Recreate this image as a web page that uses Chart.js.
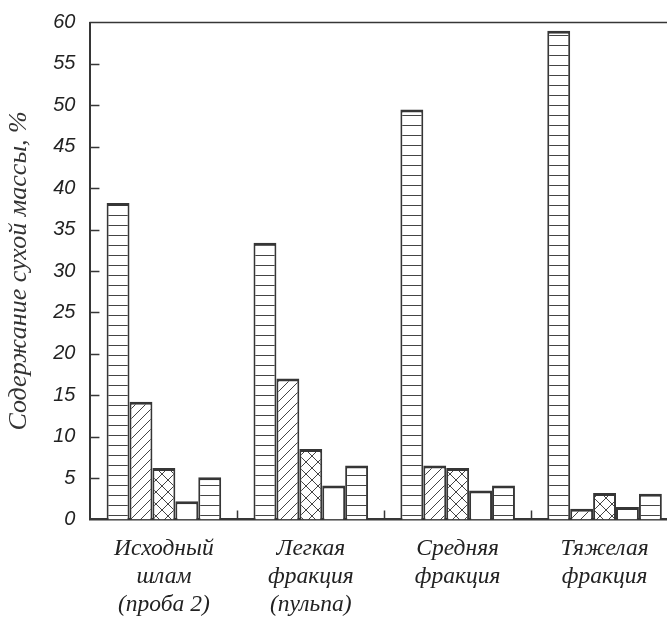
<!DOCTYPE html>
<html>
<head>
<meta charset="utf-8">
<script src="https://cdn.jsdelivr.net/npm/chart.js@4"></script>
<style>
  html, body { margin: 0; background: #fff; overflow: hidden; }
  #wrap { width: 692px; height: 619px; }
</style>
</head>
<body>
<div id="wrap"><canvas id="chart"></canvas></div>
<script>
// categories and values
const categories = [
    ['Исходный', 'шлам', '(проба 2)'],
    ['Легкая', 'фракция', '(пульпа)'],
    ['Средняя', 'фракция'],
    ['Тяжелая', 'фракция']
];
const series1 = [38.2, 33.4, 49.5, 59.0];
const series2 = [14.2, 17.0, 6.5, 1.3];
const series3 = [6.2, 8.5, 6.2, 3.2];
const series4 = [2.2, 4.1, 3.5, 1.5];
const series5 = [5.1, 6.5, 4.1, 3.1];
const yTicks = [0, 5, 10, 15, 20, 25, 30, 35, 40, 45, 50, 55, 60];

const ink = '#363636';

function makePattern(kind) {
    const s = kind === 'cross' ? 12 : 10;
    const c = document.createElement('canvas');
    c.width = s; c.height = s;
    const g = c.getContext('2d');
    g.fillStyle = '#fff';
    g.fillRect(0, 0, s, s);
    g.strokeStyle = '#444';
    g.lineWidth = 1;
    g.beginPath();
    if (kind === 'horiz') {
        g.moveTo(0, 5.5); g.lineTo(s, 5.5);
    }
    if (kind === 'diag' || kind === 'cross') {
        g.moveTo(-1, s + 1); g.lineTo(s + 1, -1);
        g.moveTo(-1, 1); g.lineTo(1, -1);
        g.moveTo(s - 1, s + 1); g.lineTo(s + 1, s - 1);
    }
    if (kind === 'cross') {
        g.moveTo(-1, -1); g.lineTo(s + 1, s + 1);
        g.moveTo(s - 1, -1); g.lineTo(s + 1, 1);
        g.moveTo(-1, s - 1); g.lineTo(1, s + 1);
    }
    g.stroke();
    return g.createPattern(c, 'repeat');
}

// inward ticks on both axes and the top frame line
const frame = {
    id: 'frame',
    afterDraw(chart) {
        const { ctx, chartArea: a, scales: { x, y } } = chart;
        ctx.save();
        ctx.strokeStyle = ink;
        ctx.lineWidth = 1.5;
        ctx.beginPath();
        ctx.moveTo(a.left - 1, a.top);
        ctx.lineTo(a.right + 5, a.top);
        yTicks.forEach(v => {
            if (v === 0 || v === 60) return;
            const py = Math.round(y.getPixelForValue(v)) + 0.5;
            ctx.moveTo(a.left, py);
            ctx.lineTo(a.left + 9, py);
        });
        for (let i = 1; i < categories.length; i++) {
            const px = Math.round((x.getPixelForValue(i - 1) + x.getPixelForValue(i)) / 2) + 0.5;
            ctx.moveTo(px, a.bottom);
            ctx.lineTo(px, a.bottom - 9);
        }
        ctx.stroke();
        ctx.restore();
    }
};

const fills = [makePattern('horiz'), makePattern('diag'), makePattern('cross'), '#fff', makePattern('horiz')];
const allSeries = [series1, series2, series3, series4, series5];

new Chart(document.getElementById('chart'), {
    type: 'bar',
    data: {
        labels: categories,
        datasets: allSeries.map((d, i) => ({
            label: 'Серия ' + (i + 1),
            data: d,
            backgroundColor: fills[i],
            borderColor: ink,
            borderWidth: { top: 3, left: 2, right: 2, bottom: 0 },
            borderSkipped: 'bottom',
            categoryPercentage: 0.78,
            barPercentage: 1.0
        }))
    },
    options: {
        responsive: true,
        maintainAspectRatio: false,
        animation: false,
        layout: { padding: { top: 4, right: 14, left: 2, bottom: -15 } },
        plugins: {
            legend: { display: false },
            tooltip: { enabled: false }
        },
        scales: {
            x: {
                grid: { display: false, drawTicks: false },
                border: { display: true, color: ink, width: 2.5 },
                ticks: {
                    color: '#222',
                    padding: 15,
                    maxRotation: 0,
                    font: { family: 'Liberation Serif', style: 'italic', size: 23.5, lineHeight: 1.2 }
                }
            },
            y: {
                min: 0,
                max: 60,
                afterBuildTicks(scale) { scale.ticks = yTicks.map(v => ({ value: v })); },
                grid: { display: false, drawTicks: false },
                border: { display: true, color: ink, width: 2 },
                ticks: {
                    color: '#222',
                    padding: 15,
                    font: { family: 'Liberation Sans', style: 'italic', size: 20, lineHeight: 0.75 }
                },
                title: {
                    display: true,
                    text: 'Содержание сухой массы, %',
                    color: '#333',
                    padding: { top: 2, bottom: 3 },
                    font: { family: 'Liberation Serif', style: 'italic', size: 26, lineHeight: 1.2 }
                }
            }
        }
    },
    plugins: [frame]
});
</script>
</body>
</html>
